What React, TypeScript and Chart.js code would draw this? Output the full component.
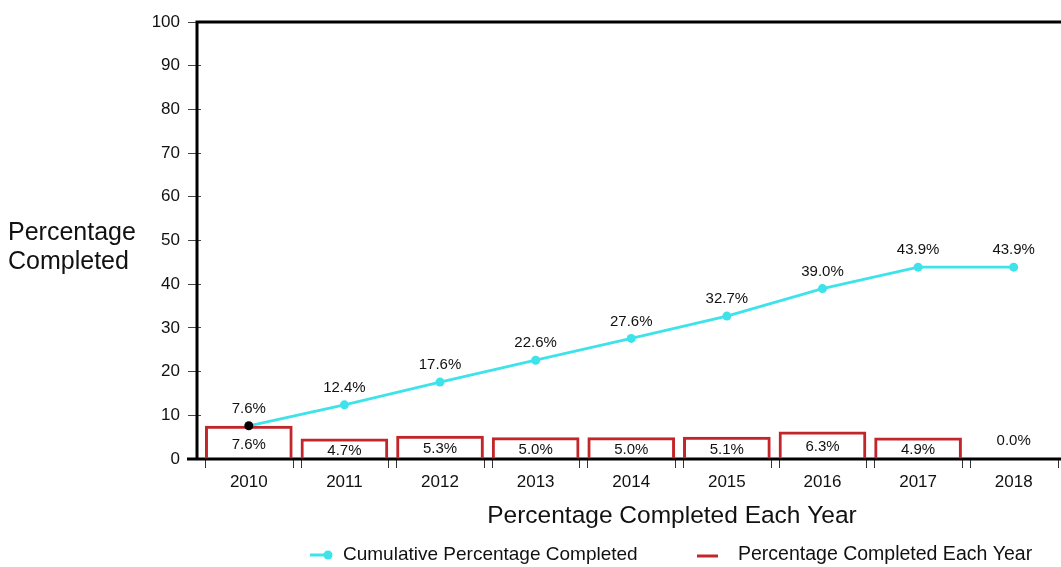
import React, { useEffect, useRef } from "react";
import { Chart, registerables } from "chart.js";

Chart.register(...registerables);

const years = ["2010", "2011", "2012", "2013", "2014", "2015", "2016", "2017", "2018"];
const cumulative = [7.6, 12.4, 17.6, 22.6, 27.6, 32.7, 39.0, 43.9, 43.9];
const yearly = [7.6, 4.7, 5.3, 5.0, 5.0, 5.1, 6.3, 4.9, 0.0];
const yMin = 0;
const yMax = 100;
const yStep = 10;
const yTitleLines = ["Percentage", "Completed"];
const xTitle = "Percentage Completed Each Year";
const cumulativeLabel = "Cumulative Percentage Completed";
const yearlyLabel = "Percentage Completed Each Year";

const FONT = '"Liberation Sans", Arial, Helvetica, sans-serif';
const CYAN = "#3ee3ea";
const RED = "#c2262a";
const TEXT = "#111";

const decorPlugin = {
  id: "decor",
  beforeDatasetsDraw(chart: any) {
    const { ctx, chartArea: a } = chart;
    const axisX = a.left - 4;
    ctx.save();
    // bar-edge tick marks under the axis
    const meta = chart.getDatasetMeta(1);
    ctx.strokeStyle = "#333";
    ctx.lineWidth = 1;
    ctx.beginPath();
    meta.data.forEach((el: any) => {
      const { x, width } = el.getProps(["x", "width"], true);
      [x - width / 2, x + width / 2].forEach((px) => {
        const xx = Math.round(px) + 0.5;
        ctx.moveTo(xx, a.bottom);
        ctx.lineTo(xx, a.bottom + 9);
      });
    });
    ctx.stroke();
    // frame: left axis, top line, bottom axis
    ctx.strokeStyle = "#000";
    ctx.lineWidth = 3;
    ctx.beginPath();
    ctx.moveTo(axisX, a.bottom);
    ctx.lineTo(axisX, a.top);
    ctx.lineTo(chart.width, a.top);
    ctx.moveTo(axisX - 10, a.bottom);
    ctx.lineTo(chart.width, a.bottom);
    ctx.stroke();
    ctx.restore();
  },
  afterDatasetsDraw(chart: any) {
    const { ctx } = chart;
    ctx.save();
    ctx.fillStyle = TEXT;
    ctx.font = `15px ${FONT}`;
    ctx.textAlign = "center";
    ctx.textBaseline = "middle";
    // line point labels
    const lineMeta = chart.getDatasetMeta(0);
    lineMeta.data.forEach((el: any, i: number) => {
      const { x, y } = el.getProps(["x", "y"], true);
      ctx.fillText(cumulative[i].toFixed(1) + "%", x, y - 17);
    });
    // bar labels
    const barMeta = chart.getDatasetMeta(1);
    barMeta.data.forEach((el: any, i: number) => {
      const { x, y, base } = el.getProps(["x", "y", "base"], true);
      const ly = yearly[i] > 0 ? Math.max((y + base) / 2 + 2, base - 14) : base - 18;
      ctx.fillText(yearly[i].toFixed(1) + "%", x, ly);
    });

    // y title
    ctx.font = `25px ${FONT}`;
    ctx.textAlign = "left";
    ctx.fillText(yTitleLines[0], 8, 233);
    ctx.fillText(yTitleLines[1], 8, 262);

    // x title
    ctx.font = `24.5px ${FONT}`;
    ctx.textAlign = "center";
    ctx.fillText(xTitle, 672, 516);

    // legend
    const ly = 555;
    ctx.strokeStyle = CYAN;
    ctx.lineWidth = 3;
    ctx.beginPath();
    ctx.moveTo(310, ly);
    ctx.lineTo(328, ly);
    ctx.stroke();
    ctx.fillStyle = CYAN;
    ctx.beginPath();
    ctx.arc(328, ly, 4.5, 0, Math.PI * 2);
    ctx.fill();
    ctx.strokeStyle = RED;
    ctx.beginPath();
    ctx.moveTo(697, ly + 1);
    ctx.lineTo(718, ly + 1);
    ctx.stroke();
    ctx.fillStyle = TEXT;
    ctx.font = `19px ${FONT}`;
    ctx.textAlign = "left";
    ctx.fillText(cumulativeLabel, 343, ly);
    ctx.font = `19.5px ${FONT}`;
    ctx.fillText(yearlyLabel, 738, ly);
    ctx.restore();
  },
};

export default function App() {
  const canvasRef = useRef<HTMLCanvasElement | null>(null);

  useEffect(() => {
    if (!canvasRef.current) return;
    const chart = new Chart(canvasRef.current, {
      type: "bar",
      data: {
        labels: years,
        datasets: [
          {
            type: "line",
            label: cumulativeLabel,
            data: cumulative,
            borderColor: CYAN,
            borderWidth: 2.8,
            pointRadius: 4.5,
            pointBorderWidth: 0,
            pointBackgroundColor: cumulative.map((_, i) => (i === 0 ? "#000" : CYAN)),
            pointHoverRadius: 4.5,
            tension: 0,
            order: 0,
          } as any,
          {
            type: "bar",
            label: yearlyLabel,
            data: yearly,
            backgroundColor: "rgba(255,255,255,0)",
            borderColor: RED,
            borderWidth: 3,
            borderSkipped: "bottom",
            barPercentage: 0.917,
            categoryPercentage: 1,
            order: 1,
          },
        ],
      },
      options: {
        responsive: false,
        animation: false,
        devicePixelRatio: 1,
        layout: { padding: { top: 22, left: 0, right: 0, bottom: 0 } },
        plugins: {
          legend: { display: false },
          tooltip: { enabled: false },
          title: { display: false },
        },
        scales: {
          x: {
            type: "category",
            offset: true,
            grid: { display: false },
            border: { display: false },
            ticks: {
              color: TEXT,
              font: { family: FONT, size: 17 },
              padding: 5,
              maxRotation: 0,
            },
            afterFit: (s: any) => {
              s.height = 108;
            },
          },
          y: {
            min: yMin,
            max: yMax,
            ticks: {
              stepSize: yStep,
              color: TEXT,
              font: { family: FONT, size: 17 },
              padding: 8,
            },
            grid: {
              display: true,
              drawOnChartArea: false,
              drawTicks: true,
              tickLength: 13,
              color: "#444",
              lineWidth: 1,
            },
            border: { display: false },
            afterFit: (s: any) => {
              s.width = 201;
            },
          },
        },
      },
      plugins: [decorPlugin],
    });
    return () => chart.destroy();
  }, []);

  return (
    <div
      style={{
        position: "fixed",
        left: 0,
        top: 0,
        width: 1061,
        height: 567,
        overflow: "hidden",
        background: "#fff",
      }}
    >
      <canvas ref={canvasRef} width={1066} height={567} style={{ display: "block" }} />
    </div>
  );
}
